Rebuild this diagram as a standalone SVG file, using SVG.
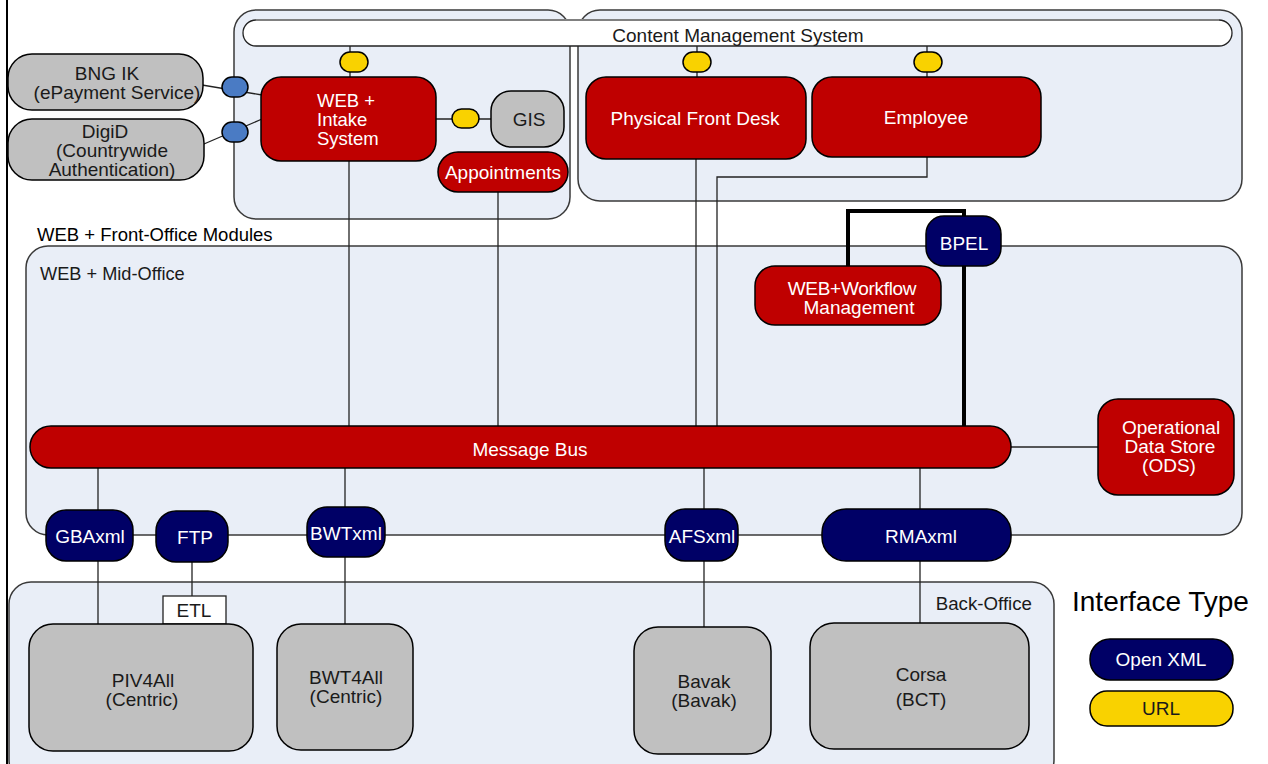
<svg xmlns="http://www.w3.org/2000/svg" width="1268" height="764" viewBox="0 0 1268 764">
<style>
text{font-family:"Liberation Sans",Arial,sans-serif;}
.panel{fill:#E9EEF7;stroke:#3a3a3a;stroke-width:1.5;}
.red{fill:#BF0000;stroke:#000;stroke-width:1.5;}
.navy{fill:#000066;stroke:#000;stroke-width:1.5;}
.gray{fill:#C0C0C0;stroke:#000;stroke-width:1.5;}
.url{fill:#F9D200;stroke:#000;stroke-width:1.5;}
.blue{fill:#4A7BC4;stroke:#000;stroke-width:1.5;}
.wt{fill:#fff;font-size:19px;text-anchor:middle;}
.dt{fill:#1a1a1a;font-size:19px;text-anchor:middle;}
.ln{stroke:#222;stroke-width:1.3;fill:none;}
.thick{stroke:#000;stroke-width:4;fill:none;}
</style>
<rect x="0" y="0" width="1268" height="764" fill="#fff"/>
<line x1="7" y1="0" x2="7" y2="764" stroke="#000" stroke-width="2"/>

<g id="panels">
<rect class="panel" x="234" y="10" width="336" height="209" rx="22"/>
<rect class="panel" x="578" y="10" width="664" height="191" rx="22"/>
<rect class="panel" x="26" y="246" width="1216" height="289" rx="22"/>
<rect class="panel" x="9" y="582" width="1045" height="200" rx="22"/>
<text x="37" y="241" font-size="18.5" fill="#000">WEB + Front-Office Modules</text>
<text x="40" y="280" font-size="18.2" fill="#1a1a1a">WEB + Mid-Office</text>
<text x="1032" y="610" font-size="18.7" fill="#1a1a1a" text-anchor="end">Back-Office</text>
</g>

<g id="connectors">
<line class="ln" x1="350" y1="46" x2="350" y2="77"/>
<line class="ln" x1="697" y1="46" x2="697" y2="77"/>
<line class="ln" x1="927" y1="46" x2="927" y2="77"/>
<line class="ln" x1="436" y1="119" x2="492" y2="119"/>
<line class="ln" x1="190" y1="83" x2="262" y2="95"/>
<line class="ln" x1="190" y1="150" x2="262" y2="119"/>
<line class="ln" x1="349" y1="161" x2="349" y2="427"/>
<line class="ln" x1="498" y1="192" x2="498" y2="427"/>
<line class="ln" x1="696" y1="159" x2="696" y2="427"/>
<polyline class="ln" points="927,157 927,177 717,177 717,427"/>
<polyline class="thick" points="848,266 848,211 964,211 964,216"/>
<line class="thick" x1="964" y1="266" x2="964" y2="428"/>
<line class="ln" x1="1011" y1="447" x2="1098" y2="447"/>
<line class="ln" x1="98" y1="468" x2="98" y2="624"/>
<line class="ln" x1="192" y1="562" x2="192" y2="596"/>
<line class="ln" x1="345" y1="468" x2="345" y2="624"/>
<line class="ln" x1="704" y1="468" x2="704" y2="627"/>
<line class="ln" x1="920" y1="468" x2="920" y2="624"/>
</g>

<g id="cms">
<rect x="243" y="20" width="989" height="26" rx="13" fill="#fff" stroke="#222" stroke-width="1.3"/>
<line x1="256" y1="20" x2="1219" y2="20" stroke="#808080" stroke-width="2"/>
<text x="738" y="42" font-size="19" fill="#1a1a1a" text-anchor="middle">Content Management System</text>
</g>

<g id="url-ovals">
<rect class="url" x="340" y="52" width="28" height="20" rx="10"/>
<rect class="url" x="683" y="52" width="28" height="20" rx="10"/>
<rect class="url" x="914" y="52" width="28" height="20" rx="10"/>
<rect class="url" x="452" y="109" width="27" height="19" rx="9.5"/>
</g>

<g id="bng-ik">
<rect class="gray" x="8" y="54" width="195" height="56" rx="24"/>
<text class="dt" x="107" y="80">BNG  IK</text>
<text class="dt" x="117" y="99">(ePayment Service)</text>
</g>
<g id="digid">
<rect class="gray" x="8" y="119" width="196" height="61" rx="24"/>
<text class="dt" x="105" y="138">DigiD</text>
<text class="dt" x="112" y="157">(Countrywide</text>
<text class="dt" x="112" y="176">Authentication)</text>
</g>
<g id="blue-ovals">
<rect class="blue" x="222" y="77" width="26" height="20" rx="10"/>
<rect class="blue" x="222" y="122" width="26" height="20" rx="10"/>
</g>

<g id="intake">
<rect class="red" x="261" y="77" width="175" height="84" rx="20"/>
<text x="317" y="107" font-size="18.5" fill="#fff">WEB +</text>
<text x="317" y="126" font-size="18.5" fill="#fff">Intake</text>
<text x="317" y="145" font-size="18.5" fill="#fff">System</text>
</g>
<g id="gis">
<rect class="gray" x="491" y="91" width="73" height="56" rx="20"/>
<text class="dt" x="529" y="126">GIS</text>
</g>
<g id="appointments">
<rect class="red" x="438" y="152" width="130" height="40" rx="20"/>
<text class="wt" x="503" y="179">Appointments</text>
</g>
<g id="front-desk">
<rect class="red" x="586" y="77" width="220" height="82" rx="20"/>
<text class="wt" x="695" y="125">Physical Front Desk</text>
</g>
<g id="employee">
<rect class="red" x="812" y="77" width="229" height="80" rx="20"/>
<text class="wt" x="926" y="124">Employee</text>
</g>

<g id="bpel">
<rect class="navy" x="926" y="216" width="75" height="50" rx="18"/>
<text class="wt" x="964" y="250">BPEL</text>
</g>
<g id="workflow">
<rect class="red" x="755" y="266" width="186" height="59" rx="20"/>
<text class="wt" x="852" y="295" font-size="18.5" letter-spacing="-0.3">WEB+Workflow</text>
<text class="wt" x="859" y="314" font-size="18.5">Management</text>
</g>
<g id="message-bus">
<rect class="red" x="30" y="426" width="981" height="42" rx="21"/>
<text class="wt" x="530" y="456">Message Bus</text>
</g>
<g id="ods">
<rect class="red" x="1098" y="399" width="136" height="96" rx="20"/>
<text class="wt" x="1171" y="434">Operational</text>
<text class="wt" x="1170" y="453">Data Store</text>
<text class="wt" x="1169" y="472">(ODS)</text>
</g>

<g id="gbaxml">
<rect class="navy" x="46" y="510" width="87" height="51" rx="20"/>
<text class="wt" x="90" y="543">GBAxml</text>
</g>
<g id="ftp">
<rect class="navy" x="156" y="511" width="72" height="51" rx="20"/>
<text class="wt" x="195" y="544">FTP</text>
</g>
<g id="bwtxml">
<rect class="navy" x="307" y="507" width="78" height="50" rx="20"/>
<text class="wt" x="346" y="540">BWTxml</text>
</g>
<g id="afsxml">
<rect class="navy" x="665" y="509" width="73" height="52" rx="20"/>
<text class="wt" x="702" y="543">AFSxml</text>
</g>
<g id="rmaxml">
<rect class="navy" x="822" y="509" width="189" height="52" rx="24"/>
<text class="wt" x="921" y="543">RMAxml</text>
</g>

<g id="etl">
<rect x="163" y="596" width="63" height="28" fill="#fff" stroke="#222" stroke-width="1.3"/>
<text class="dt" x="194" y="617" font-size="18">ETL</text>
</g>
<g id="piv4all">
<rect class="gray" x="29" y="624" width="224" height="127" rx="24"/>
<text class="dt" x="143" y="687">PIV4All</text>
<text class="dt" x="142" y="706">(Centric)</text>
</g>
<g id="bwt4all">
<rect class="gray" x="277" y="624" width="136" height="126" rx="24"/>
<text class="dt" x="346" y="684">BWT4All</text>
<text class="dt" x="346" y="703">(Centric)</text>
</g>
<g id="bavak">
<rect class="gray" x="634" y="627" width="137" height="127" rx="24"/>
<text class="dt" x="704" y="688">Bavak</text>
<text class="dt" x="704" y="707">(Bavak)</text>
</g>
<g id="corsa">
<rect class="gray" x="810" y="623" width="219" height="126" rx="24"/>
<text class="dt" x="921" y="681">Corsa</text>
<text class="dt" x="921" y="706">(BCT)</text>
</g>

<g id="legend">
<text x="1072" y="611" font-size="28" fill="#000">Interface Type</text>
<rect class="navy" x="1090" y="639" width="143" height="41" rx="20"/>
<text class="wt" x="1161" y="666">Open  XML</text>
<rect class="url" x="1090" y="691" width="143" height="35" rx="17"/>
<text class="dt" x="1161" y="715">URL</text>
</g>
</svg>
